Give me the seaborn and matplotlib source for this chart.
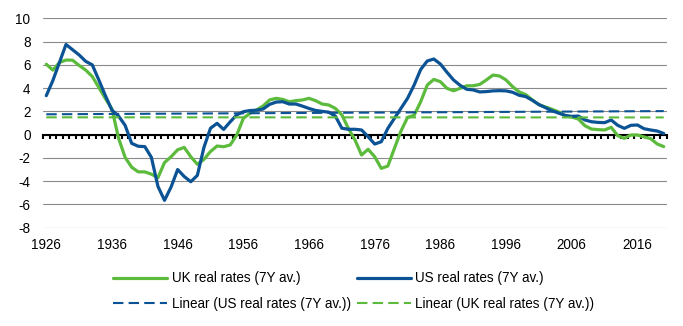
import numpy as np
import pandas as pd
import matplotlib
matplotlib.use("Agg")
import matplotlib.pyplot as plt
import seaborn as sns

# Annual observations, 1926-2020 (7-year averages of real rates, %)
years = list(range(1926, 2021))

uk_real = [
    6.05, 5.55, 6.2, 6.41, 6.4, 5.95, 5.55, 5.0, 4.05, 3.1,          # 1926-1935
    2.2, -0.3, -1.95, -2.8, -3.2, -3.2, -3.4, -3.7, -2.4, -1.9,      # 1936-1945
    -1.3, -1.1, -1.9, -2.55, -2.13, -1.45, -0.98, -1.04, -0.89, -0.03,  # 1946-1955
    1.4, 1.83, 2.12, 2.46, 2.98, 3.12, 3.03, 2.83, 2.92, 2.98,       # 1956-1965
    3.12, 2.92, 2.63, 2.55, 2.26, 1.7, 0.52, -0.46, -1.75, -1.26,    # 1966-1975
    -1.9, -2.9, -2.7, -1.18, 0.31, 1.48, 1.66, 2.83, 4.26, 4.75,     # 1976-1985
    4.55, 3.98, 3.77, 3.98, 4.2, 4.2, 4.32, 4.7, 5.12, 5.04,         # 1986-1995
    4.7, 4.12, 3.67, 3.44, 2.98, 2.58, 2.38, 2.18, 1.95, 1.63,       # 1996-2005
    1.51, 1.34, 0.77, 0.48, 0.43, 0.4, 0.63, -0.09, -0.32, -0.03,    # 2006-2015
    -0.03, -0.2, -0.34, -0.8, -1.03,                                 # 2016-2020
]

us_real = [
    3.35, 4.65, 6.2, 7.75, 7.3, 6.85, 6.3, 6.0, 4.7, 3.35,           # 1926-1935
    2.1, 1.6, 0.8, -0.75, -1.0, -1.03, -1.95, -4.45, -5.65, -4.5,    # 1936-1945
    -3.0, -3.6, -4.05, -3.5, -1.1, 0.55, 0.97, 0.45, 1.1, 1.7,       # 1946-1955
    1.97, 2.07, 2.1, 2.2, 2.6, 2.8, 2.83, 2.63, 2.63, 2.45,          # 1956-1965
    2.25, 2.08, 2.0, 1.93, 1.6, 0.55, 0.46, 0.46, 0.4, -0.18,        # 1966-1975
    -0.81, -0.61, 0.54, 1.4, 2.26, 3.12, 4.26, 5.6, 6.33, 6.5,       # 1976-1985
    6.07, 5.36, 4.7, 4.24, 3.9, 3.84, 3.67, 3.7, 3.76, 3.78,         # 1986-1995
    3.76, 3.64, 3.38, 3.27, 2.95, 2.58, 2.32, 2.05, 1.85, 1.65,      # 1996-2005
    1.57, 1.6, 1.26, 1.11, 1.05, 1.03, 1.26, 0.8, 0.54, 0.8,         # 2006-2015
    0.83, 0.51, 0.4, 0.31, 0.1,                                      # 2016-2020
]

x_labels = list(range(1926, 2017, 10))
y_ticks = list(range(-8, 11, 2))

uk_name = "UK real rates (7Y av.)"
us_name = "US real rates (7Y av.)"
us_trend_name = "Linear (US real rates (7Y av.))"
uk_trend_name = "Linear (UK real rates (7Y av.))"

green = "#5cbb3c"
blue = "#0b5394"

sns.set_theme(style="white")
plt.rcParams["font.family"] = ["Liberation Sans", "DejaVu Sans"]
plt.rcParams["axes.unicode_minus"] = False
plt.rcParams["text.color"] = "black"
plt.rcParams["xtick.color"] = "black"
plt.rcParams["ytick.color"] = "black"

FS = 9.75

fig = plt.figure(figsize=(6.83, 3.26), dpi=100)
ax = fig.add_axes([43 / 683, 1 - 227.7 / 326, 624 / 683, 209.4 / 326])

# Least-squares linear trend of each series
yr = np.array(years, dtype=float)
us_trend = np.polyval(np.polyfit(yr, us_real, 1), yr)
uk_trend = np.polyval(np.polyfit(yr, uk_real, 1), yr)

df = pd.DataFrame({
    "year": years * 2,
    "rate": uk_real + us_real,
    "series": [uk_name] * len(years) + [us_name] * len(years),
})
sns.lineplot(data=df, x="year", y="rate", hue="series",
             palette={uk_name: green, us_name: blue},
             linewidth=2.3, ax=ax, legend=False, zorder=3)
uk_line, us_line = ax.lines[0], ax.lines[1]

sns.lineplot(x=years, y=us_trend, color=blue, linewidth=1.5, ax=ax, zorder=4)
us_trend_line = ax.lines[-1]
sns.lineplot(x=years, y=uk_trend, color=green, linewidth=1.5, ax=ax, zorder=4)
uk_trend_line = ax.lines[-1]
for ln in (us_trend_line, uk_trend_line):
    ln.set_dashes([5, 2.5])

ax.set_xlim(years[0] - 0.5, years[-1] + 0.5)
ax.set_ylim(-8, 10)

# Category axis drawn along zero, with a tick between each year
for side in ("left", "right", "top"):
    ax.spines[side].set_visible(False)
ax.spines["bottom"].set_position(("data", 0))
ax.spines["bottom"].set_color("black")
ax.spines["bottom"].set_linewidth(1.5)
ax.set_xticks(np.arange(years[0] - 0.5, years[-1] + 1, 1.0))
ax.tick_params(axis="x", which="major", direction="out", length=2.6,
               width=1.5, color="black", bottom=True, labelbottom=False)
ax.set_xlabel("")
ax.set_ylabel("")

ax.set_yticks(y_ticks)
ax.set_yticklabels([str(v) for v in y_ticks])
ax.tick_params(axis="y", length=0, pad=9, labelsize=FS)
ax.yaxis.grid(True, color="#8a8a8a", linewidth=0.8)
ax.xaxis.grid(False)
ax.set_axisbelow(True)

# Year labels along the bottom of the plot area
sec = ax.secondary_xaxis("bottom")
sec.set_xticks(x_labels)
sec.set_xticklabels([str(v) for v in x_labels])
sec.tick_params(length=0, pad=7.5, labelsize=FS)
sec.spines["bottom"].set_visible(False)

fig.legend([uk_line, us_trend_line, us_line, uk_trend_line],
           [uk_name, us_trend_name, us_name, uk_trend_name],
           ncol=2, loc="upper left",
           bbox_to_anchor=(113 / 683, 1 - 271.4 / 326),
           frameon=False, fontsize=FS, handlelength=4.0,
           handletextpad=0.35, columnspacing=0.41, labelspacing=0.86,
           borderpad=0, borderaxespad=0)

fig.savefig("out.png", dpi=100)
